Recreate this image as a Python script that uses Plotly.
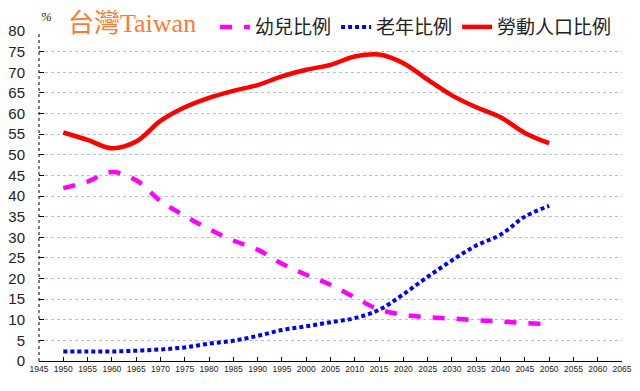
import plotly.graph_objects as go

years = [1950, 1955, 1960, 1965, 1970, 1975, 1980, 1985, 1990, 1995, 2000,
         2005, 2010, 2015, 2020, 2025, 2030, 2035, 2040, 2045, 2050]
children = [41.9, 43.5, 45.8, 43.8, 38.8, 35.2, 32.0, 29.2, 27.0, 23.6, 20.9,
            18.5, 15.4, 12.5, 11.2, 10.6, 10.3, 9.9, 9.6, 9.2, 8.9]
elderly = [2.3, 2.3, 2.3, 2.5, 2.8, 3.3, 4.2, 4.9, 6.1, 7.5, 8.4,
           9.4, 10.4, 12.4, 16.2, 20.4, 24.4, 28.0, 30.6, 35.0, 37.6]
labor = [55.4, 53.6, 51.6, 53.2, 58.2, 61.5, 63.8, 65.5, 66.9, 69.0, 70.6,
         71.8, 73.8, 74.3, 72.2, 68.2, 64.4, 61.5, 59.1, 55.3, 52.8]

names = ["幼兒比例", "老年比例", "勞動人口比例"]
x_ticks = list(range(1945, 2070, 5))
y_ticks = list(range(0, 85, 5))

fig = go.Figure()
fig.add_trace(go.Scatter(x=years, y=children, name=names[0], mode="lines",
                         line=dict(color="#FF00FF", width=4.5, dash="12px,12px", shape="spline")))
fig.add_trace(go.Scatter(x=years, y=elderly, name=names[1], mode="lines",
                         line=dict(color="#0000FF", width=4, dash="4px,3px", shape="spline")))
fig.add_trace(go.Scatter(x=years, y=labor, name=names[2], mode="lines",
                         line=dict(color="#FF0000", width=4.5, shape="spline")))

# the page body has an 8px default margin, so the figure is 8px smaller
fig.update_layout(
    width=632, height=383,
    margin=dict(l=31, r=18, t=23, b=30, autoexpand=False),
    plot_bgcolor="white", paper_bgcolor="white",
    font=dict(family="Liberation Sans, Noto Sans CJK TC", color="#222"),
    legend=dict(orientation="h", x=0.302, xanchor="left", y=1.012, yanchor="middle",
                font=dict(family="Noto Sans CJK TC", size=19, color="#222"),
                bgcolor="rgba(0,0,0,0)"),
    showlegend=True,
)
fig.update_xaxes(range=[1945, 2065], tickvals=x_ticks, ticktext=[str(v) for v in x_ticks],
                 showline=True, linecolor="black", linewidth=1,
                 ticks="inside", ticklen=4, tickcolor="black", tickangle=0,
                 showgrid=False, zeroline=False, automargin=False,
                 tickfont=dict(family="Liberation Sans", size=8.5, color="#222"))
fig.update_yaxes(range=[0, 80], tickvals=y_ticks,
                 showline=False, ticks="inside", ticklen=5, tickcolor="black",
                 showgrid=True, gridcolor="#A8C4EC", griddash="dot", gridwidth=1,
                 zeroline=False, ticklabelstandoff=13, automargin=False,
                 tickfont=dict(family="Liberation Sans", size=15, color="#222"))
fig.add_shape(type="line", xref="paper", yref="paper", x0=0, x1=0, y0=0, y1=1,
              line=dict(color="black", width=1, dash="dot"))
fig.add_annotation(text="台灣Taiwan", xref="paper", yref="paper", x=0.046, y=1.023,
                   xanchor="left", yanchor="middle", showarrow=False,
                   font=dict(family="Liberation Serif, Noto Sans CJK TC", size=26, color="#FF7A30"))
fig.add_annotation(text="%", xref="paper", yref="paper", x=0.0, y=1.044,
                   xanchor="left", yanchor="middle", showarrow=False,
                   font=dict(family="Liberation Serif", size=13, color="#222", style="italic"))
fig.write_html("out.html")
